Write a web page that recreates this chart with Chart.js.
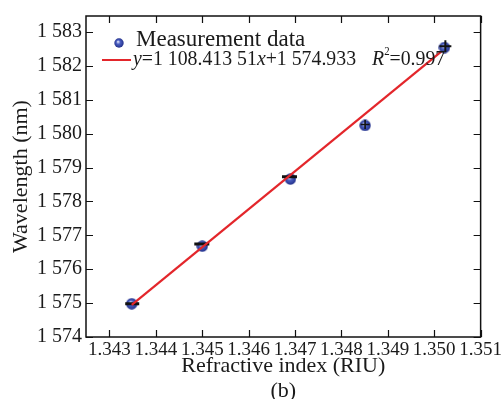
<!DOCTYPE html>
<html>
<head>
<meta charset="utf-8">
<script src="https://cdn.jsdelivr.net/npm/chart.js@4.4.0/dist/chart.umd.min.js"></script>
<style>
  html, body { margin: 0; padding: 0; background: #fff; }
  #wrap { width: 504px; height: 399px; }
</style>
</head>
<body>
<div id="wrap"><canvas id="grafico_indice" width="504" height="399"></canvas></div>
<script>
// pontos medidos: indice de refracao x comprimento de onda
const indiceRefracao = [1.34348, 1.34500, 1.34690, 1.34851, 1.35022];
const comprimentoOnda = [1574.98, 1576.68, 1578.66, 1580.24, 1582.54];

// marcas pretas (barras de erro) sobre cada ponto
const erroX = [1.34349, 1.34499, 1.34688, 1.34851, 1.35024];
const erroY = [1574.98, 1576.74, 1578.73, 1580.27, 1582.58];

// extremos da reta ajustada
const ajusteX = [1.34348, 1.35015];
const ajusteY = [1574.95, 1582.42];

const xTicks = [1.343, 1.344, 1.345, 1.346, 1.347, 1.348, 1.349, 1.350, 1.351];
const xTickLabels = ['1.343', '1.344', '1.345', '1.346', '1.347', '1.348', '1.349', '1.350', '1.351'];
const yTicks = [1574, 1575, 1576, 1577, 1578, 1579, 1580, 1581, 1582, 1583];
const yTickLabels = ['1 574', '1 575', '1 576', '1 577', '1 578', '1 579', '1 580', '1 581', '1 582', '1 583'];

const serif = "'Liberation Serif', 'Times New Roman', serif";

// esfera azul sombreada usada como marcador
function esfera(d) {
    const c = document.createElement('canvas');
    c.width = d; c.height = d;
    const g = c.getContext('2d');
    const r = d / 2;
    const grad = g.createRadialGradient(r * 0.8, r * 0.75, r * 0.1, r, r, r);
    grad.addColorStop(0, '#c9d0f2');
    grad.addColorStop(0.35, '#4a5ec0');
    grad.addColorStop(1, '#1f2c86');
    g.fillStyle = grad;
    g.beginPath();
    g.arc(r, r, r - 0.3, 0, Math.PI * 2);
    g.fill();
    return c;
}
const marcador = esfera(12);
const marcadorLegenda = esfera(10);

const xy = (xs, ys) => xs.map((v, i) => ({ x: v, y: ys[i] }));

// moldura com ticks para dentro nos quatro lados
const moldura = {
    id: 'moldura',
    afterDatasetsDraw(chart) {
        const { ctx, chartArea: a, scales: { x, y } } = chart;
        ctx.save();
        ctx.strokeStyle = '#111';
        ctx.lineWidth = 1.5;
        ctx.strokeRect(a.left, a.top, a.right - a.left, a.bottom - a.top);
        ctx.lineWidth = 1.2;
        ctx.beginPath();
        xTicks.forEach(v => {
            const px = Math.round(x.getPixelForValue(v)) + 0.5;
            ctx.moveTo(px, a.bottom); ctx.lineTo(px, a.bottom - 7);
            ctx.moveTo(px, a.top); ctx.lineTo(px, a.top + 7);
        });
        yTicks.forEach(v => {
            const py = Math.round(y.getPixelForValue(v)) + 0.5;
            ctx.moveTo(a.left, py); ctx.lineTo(a.left + 7, py);
            ctx.moveTo(a.right, py); ctx.lineTo(a.right - 7, py);
        });
        ctx.stroke();
        ctx.restore();
    }
};

// legenda dentro da area do grafico
const legenda = {
    id: 'legenda',
    afterDraw(chart) {
        const { ctx, chartArea: a } = chart;
        ctx.save();
        ctx.textBaseline = 'alphabetic';
        ctx.fillStyle = '#1a1a1a';
        ctx.drawImage(marcadorLegenda, a.left + 28, a.top + 22);
        ctx.font = '23px ' + serif;
        ctx.fillText(chart.data.datasets[0].label, a.left + 50, a.top + 30);

        ctx.strokeStyle = '#e3262b';
        ctx.lineWidth = 2;
        ctx.beginPath();
        ctx.moveTo(a.left + 16, a.top + 44);
        ctx.lineTo(a.left + 45, a.top + 44);
        ctx.stroke();

        // texto da equacao, um pouco condensado na horizontal
        const partes = [
            { t: 'y', it: true }, { t: '=1 108.413 51' }, { t: 'x', it: true },
            { t: '+1 574.933' }, { t: '  ', gap: 16 }, { t: 'R', it: true }, { t: '2', sup: true }, { t: '=0.997' }
        ];
        const k = 0.9;
        let px = a.left + 47;
        const base = a.top + 49;
        partes.forEach(p => {
            ctx.font = (p.it ? 'italic ' : '') + (p.sup ? '12px ' : '22px ') + serif;
            if (p.gap) { px += p.gap; return; }
            ctx.save();
            ctx.translate(px, p.sup ? base - 10 : base);
            ctx.scale(k, 1);
            ctx.fillText(p.t, 0, 0);
            ctx.restore();
            px += ctx.measureText(p.t).width * k;
        });
        ctx.restore();
    }
};

const ctx = document.getElementById('grafico_indice').getContext('2d');
const myChart = new Chart(ctx, {
    type: 'scatter',
    data: {
        datasets: [{
            label: 'Measurement data',
            data: xy(indiceRefracao, comprimentoOnda),
            pointStyle: marcador,
            pointRadius: 6,
            order: 3
        }, {
            label: 'erro',
            data: xy(erroX, erroY),
            pointStyle: ['line', 'line', 'line', 'crossRot', 'cross'],
            rotation: [0, 0, 0, 45, 0],
            pointRadius: [7, 7.5, 7.5, 4.5, 6],
            borderColor: '#111',
            backgroundColor: '#111',
            borderWidth: [3, 3, 3, 1.6, 2],
            order: 2
        }, {
            label: 'ajuste',
            type: 'line',
            data: xy(ajusteX, ajusteY),
            borderColor: '#e3262b',
            borderWidth: 2.2,
            pointRadius: 0,
            fill: false,
            order: 1
        }]
    },
    options: {
        responsive: false,
        devicePixelRatio: 1,
        animation: false,
        layout: { padding: { top: 13, right: 15, left: 0, bottom: 0 } },
        plugins: {
            legend: { display: false },
            tooltip: { enabled: false }
        },
        scales: {
            x: {
                type: 'linear',
                min: 1.342494,
                max: 1.351,
                afterBuildTicks: s => { s.ticks = xTicks.map(v => ({ value: v })); },
                afterFit: s => { s.height = 62; },
                grid: { display: false, drawTicks: false },
                border: { display: false },
                ticks: {
                    callback: (v, i) => xTickLabels[i],
                    autoSkip: false,
                    maxRotation: 0,
                    padding: 2,
                    color: '#1a1a1a',
                    font: { family: serif, size: 19 }
                },
                title: {
                    display: true,
                    text: ['Refractive index (RIU)', '(b)'],
                    color: '#1a1a1a',
                    font: { family: serif, size: 22, lineHeight: 1.15 },
                    padding: { top: 0, bottom: -5 }
                }
            },
            y: {
                min: 1574,
                max: 1583.47,
                afterBuildTicks: s => { s.ticks = yTicks.map(v => ({ value: v })); },
                afterFit: s => { s.width = 86; },
                grid: { display: false, drawTicks: false },
                border: { display: false },
                ticks: {
                    callback: (v, i) => yTickLabels[i],
                    autoSkip: false,
                    padding: 4,
                    color: '#1a1a1a',
                    font: { family: serif, size: 20 }
                },
                title: {
                    display: true,
                    text: 'Wavelength (nm)',
                    color: '#1a1a1a',
                    font: { family: serif, size: 22, lineHeight: 1.2 },
                    padding: { top: 8, bottom: 0 }
                }
            }
        }
    },
    plugins: [moldura, legenda]
});
</script>
</body>
</html>
